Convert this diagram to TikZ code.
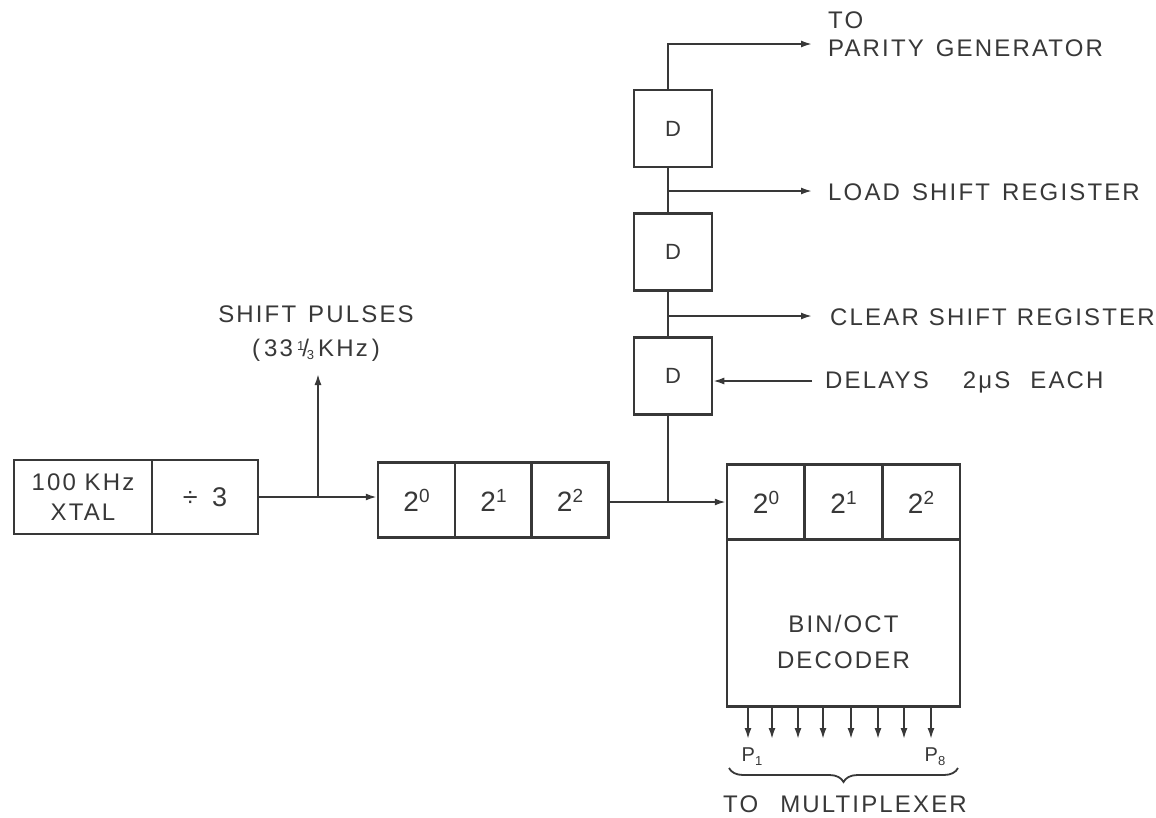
\documentclass[tikz,border=0pt]{standalone}
\usepackage{fontspec}
\setmainfont{Liberation Sans}[LetterSpace=9]
\usetikzlibrary{arrows.meta,decorations.pathreplacing}
\begin{document}
\begin{tikzpicture}[x=1pt,y=-1pt,
  every node/.style={text=black!78, font=\fontsize{24}{28}\selectfont},
  box/.style={draw=black!78, line width=2.5pt, inner sep=0pt},
  cell/.style={box, minimum width=77pt, minimum height=75pt, font=\fontsize{28}{30}\selectfont},
  dbox/.style={box, minimum width=78pt, minimum height=77pt, font=\fontsize{22}{26}\selectfont},
  conn/.style={draw=black!78, line width=1.8pt},
  arr/.style={conn, -{Latex[length=11pt,width=7pt]}},
  lbl/.style={anchor=west, inner sep=0pt},
  clbl/.style={inner sep=0pt}]
\useasboundingbox (0,0) rectangle (1156,817);
\fill[white] (0,0) rectangle (1156,817);

% oscillator and divider
\node[box, minimum width=138pt, minimum height=74pt, align=center] (xtal) at (83,497) {100 KHz\\[2pt]XTAL};
\node[box, minimum width=106pt, minimum height=74pt] (div) at (205,497) {\fontsize{27}{30}\selectfont÷ \,3};

% first counter
\node[cell] (a0) at (416.5,500) {2\raisebox{9pt}{\fontsize{19}{19}\selectfont 0}};
\node[cell] (a1) at (493.5,500) {2\raisebox{9pt}{\fontsize{19}{19}\selectfont 1}};
\node[cell] (a2) at (570,500) {2\raisebox{9pt}{\fontsize{19}{19}\selectfont 2}};

% second counter and decoder
\node[cell, minimum width=78pt] (b0) at (766,502) {2\raisebox{9pt}{\fontsize{19}{19}\selectfont 0}};
\node[cell, minimum width=78pt] (b1) at (843.5,502) {2\raisebox{9pt}{\fontsize{19}{19}\selectfont 1}};
\node[cell, minimum width=78pt] (b2) at (921,502) {2\raisebox{9pt}{\fontsize{19}{19}\selectfont 2}};
\node[box, minimum width=233pt, minimum height=167pt] (dec) at (843.5,623) {};
\node[clbl, align=center] (declbl) at (843.5,642) {BIN/OCT\\[8pt]DECODER};

% delay boxes
\node[dbox] (d1) at (673,128.5) {D};
\node[dbox] (d2) at (673,252) {D};
\node[dbox] (d3) at (673,376) {D};

% connectors: divider to counter
\coordinate (sp) at (318,497);
\coordinate (spend) at (318,374);
\draw[arr] (div.east) -- (a0.west |- div.east);
\draw[arr] (sp) -- (spend);

% counter to counter and delay chain
\coordinate (j) at (668,502);
\draw[arr] (a2.east |- j) -- (b0.west);
\draw[conn] (j) -- (d3.south -| j);
\draw[conn] (d3.north -| j) -- (d2.south -| j);
\draw[conn] (d2.north -| j) -- (d1.south -| j);
\coordinate (tp) at (668,44);
\coordinate (tpend) at (812,44);
\draw[arr] (d1.north -| tp) -- (tp) -- (tpend);
\coordinate (ld) at (668,191);
\coordinate (ldend) at (812,191);
\draw[arr] (ld) -- (ldend);
\coordinate (cl) at (668,316);
\coordinate (clend) at (812,316);
\draw[arr] (cl) -- (clend);
\coordinate (dl) at (812,381);
\draw[arr] (dl) -- (d3.east |- dl);

% decoder outputs
\foreach \x [count=\i] in {748,772,798,823,851,878,904,931}{
  \coordinate (o\i) at (\x,739);
  \draw[arr] (dec.south -| o\i) -- (o\i);
}
\node[clbl] (p1) at (752,757) {\fontsize{20}{22}\selectfont P\raisebox{-4pt}{\fontsize{13}{13}\selectfont 1}};
\node[clbl] (p8) at (935,757) {\fontsize{20}{22}\selectfont P\raisebox{-4pt}{\fontsize{13}{13}\selectfont 8}};
\draw[conn, decorate, decoration={brace, amplitude=14pt, aspect=0.5}] (958,768) -- (729,768);

% labels
\node[clbl] (tmux) at (845,804) {TO\hspace{22pt}MULTIPLEXER};
\node[clbl] (shp) at (316,314) {SHIFT\hspace{12pt}PULSES};
\node[clbl] (shf) at (316,350) {(\,33\,\raisebox{6pt}{\fontsize{13}{13}\selectfont 1}\kern-2pt/\kern-2pt\raisebox{-3pt}{\fontsize{13}{13}\selectfont 3}\,KHz\,)};
\node[lbl] (to) at (828,20) {TO};
\node[lbl] (par) at (828,48) {PARITY\hspace{12pt}GENERATOR};
\node[lbl] (lsr) at (828,192) {LOAD\hspace{12pt}SHIFT\hspace{12pt}REGISTER};
\node[lbl] (csr) at (830,317) {CLEAR\hspace{10pt}SHIFT\hspace{10pt}REGISTER};
\node[lbl] (dly) at (825,382) {DELAYS\hspace{34pt}2μS\hspace{20pt}EACH};
\end{tikzpicture}
\end{document}
